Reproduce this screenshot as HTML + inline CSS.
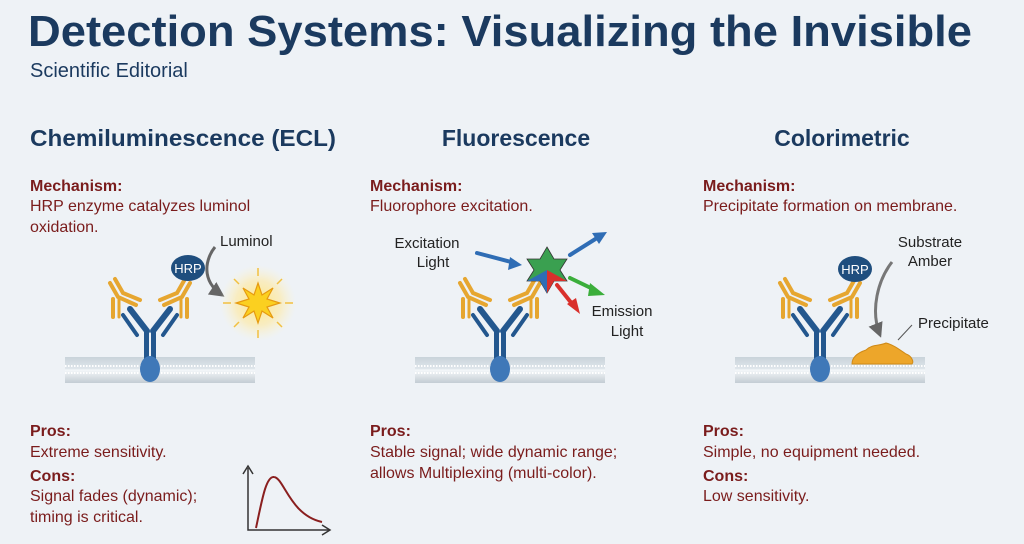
<!DOCTYPE html>
<html><head><meta charset="utf-8"><style>
body{margin:0;background:#eef2f6;}
svg{display:block;font-family:"Liberation Sans",Arial,sans-serif;}
</style></head><body>
<svg width="1024" height="544" viewBox="0 0 1024 544" xmlns="http://www.w3.org/2000/svg">
<defs>
<linearGradient id="mem" x1="0" y1="0" x2="0" y2="1">
<stop offset="0" stop-color="#c9d3da"/><stop offset="0.45" stop-color="#dfe6eb"/><stop offset="0.5" stop-color="#f4f7f9"/><stop offset="1" stop-color="#c3ccd3"/></linearGradient>
<radialGradient id="glow"><stop offset="0" stop-color="#ffe680" stop-opacity="1"/><stop offset="0.6" stop-color="#ffe9a0" stop-opacity="0.6"/><stop offset="1" stop-color="#fff3c8" stop-opacity="0"/></radialGradient>
<g id="ab">
<rect x="-85" y="0" width="190" height="26" fill="url(#mem)"/>
<line x1="-85" y1="9" x2="105" y2="9" stroke="#fff" stroke-width="2" stroke-dasharray="1.5 1.5"/>
<line x1="-85" y1="16" x2="105" y2="16" stroke="#fff" stroke-width="2" stroke-dasharray="1.5 1.5"/>
<rect x="-6" y="-28" width="5" height="36" fill="#23578e"/>
<rect x="1" y="-28" width="5" height="36" fill="#23578e"/>
<path d="M-3 -26 L-20 -48" stroke="#23578e" stroke-width="6" stroke-linecap="round"/>
<path d="M-13 -22 L-27 -42" stroke="#23578e" stroke-width="4" stroke-linecap="round"/>
<path d="M3 -26 L20 -48" stroke="#23578e" stroke-width="6" stroke-linecap="round"/>
<path d="M13 -22 L27 -42" stroke="#23578e" stroke-width="4" stroke-linecap="round"/>
<ellipse cx="0" cy="12" rx="10" ry="13" fill="#3f78b8"/>
<path d="M-35 -78 L-27 -64 L-10 -57" stroke="#e6a630" stroke-width="4" fill="none" stroke-linecap="round"/>
<path d="M-40 -74 L-32 -60 L-14 -52" stroke="#e6a630" stroke-width="4" fill="none" stroke-linecap="round"/>
<path d="M-37 -58 L-37 -40" stroke="#e6a630" stroke-width="4" stroke-linecap="round"/>
<path d="M-31 -58 L-31 -40" stroke="#e6a630" stroke-width="3" stroke-linecap="round"/>
<path d="M35 -78 L27 -64 L10 -57" stroke="#e6a630" stroke-width="4" fill="none" stroke-linecap="round"/>
<path d="M40 -74 L32 -60 L14 -52" stroke="#e6a630" stroke-width="4" fill="none" stroke-linecap="round"/>
<path d="M37 -58 L37 -40" stroke="#e6a630" stroke-width="4" stroke-linecap="round"/>
<path d="M31 -58 L31 -40" stroke="#e6a630" stroke-width="3" stroke-linecap="round"/>
</g>
<marker id="ag" viewBox="0 0 10 10" refX="8" refY="5" markerWidth="5" markerHeight="5" orient="auto"><path d="M0 0 L10 5 L0 10z" fill="#666"/></marker>
</defs>

<text x="28" y="46" font-size="44" font-weight="bold" fill="#1b3a5f" textLength="944" lengthAdjust="spacingAndGlyphs">Detection Systems: Visualizing the Invisible</text>
<text x="30" y="77" font-size="20" fill="#1b3a5f">Scientific Editorial</text>

<g font-size="23" font-weight="bold" fill="#1b3a5f" text-anchor="middle">
<text x="183" y="146" textLength="306" lengthAdjust="spacingAndGlyphs">Chemiluminescence (ECL)</text>
<text x="516" y="146">Fluorescence</text>
<text x="842" y="146">Colorimetric</text>
</g>

<g font-size="16">
<text x="30" y="191" font-weight="bold" fill="#7a1c1c">Mechanism:</text>
<text x="30" y="211" fill="#7a1c1c">HRP enzyme catalyzes luminol</text>
<text x="30" y="232" fill="#7a1c1c">oxidation.</text>
<text x="370" y="191" font-weight="bold" fill="#7a1c1c">Mechanism:</text>
<text x="370" y="211" fill="#7a1c1c">Fluorophore excitation.</text>
<text x="703" y="191" font-weight="bold" fill="#7a1c1c">Mechanism:</text>
<text x="703" y="211" fill="#7a1c1c">Precipitate formation on membrane.</text>

<text x="30" y="436" font-weight="bold" fill="#7a1c1c">Pros:</text>
<text x="30" y="457" fill="#7a1c1c">Extreme sensitivity.</text>
<text x="30" y="481" font-weight="bold" fill="#7a1c1c">Cons:</text>
<text x="30" y="501" fill="#7a1c1c">Signal fades (dynamic);</text>
<text x="30" y="522" fill="#7a1c1c">timing is critical.</text>
<text x="370" y="436" font-weight="bold" fill="#7a1c1c">Pros:</text>
<text x="370" y="457" fill="#7a1c1c">Stable signal; wide dynamic range;</text>
<text x="370" y="478" fill="#7a1c1c">allows Multiplexing (multi-color).</text>
<text x="703" y="436" font-weight="bold" fill="#7a1c1c">Pros:</text>
<text x="703" y="457" fill="#7a1c1c">Simple, no equipment needed.</text>
<text x="703" y="481" font-weight="bold" fill="#7a1c1c">Cons:</text>
<text x="703" y="501" fill="#7a1c1c">Low sensitivity.</text>
</g>

<path d="M248 468 L248 530 L330 530" stroke="#333" stroke-width="1.5" fill="none"/>
<path d="M243 474 L248 466 L253 474 M322 525 L330 530 L322 535" stroke="#333" stroke-width="1.5" fill="none"/>
<path d="M256 528 C262 500 266 476 274 477 C284 478 290 515 322 522" stroke="#8a1f1f" stroke-width="2" fill="none"/>

<use href="#ab" x="150" y="357"/>
<use href="#ab" x="500" y="357"/>
<use href="#ab" x="820" y="357"/>

<ellipse cx="188" cy="268" rx="17" ry="13" fill="#1f4e7e"/>
<text x="188" y="273" font-size="13" fill="#fff" text-anchor="middle">HRP</text>
<text x="220" y="246" font-size="15" fill="#222">Luminol</text>
<path d="M215 247 C206 258 200 280 222 295" stroke="#666" stroke-width="3" fill="none" marker-end="url(#ag)"/>
<circle cx="258" cy="303" r="38" fill="url(#glow)"/>
<g stroke="#f2c040" stroke-width="1.5">
<line x1="258" y1="268" x2="258" y2="276"/><line x1="258" y1="330" x2="258" y2="338"/>
<line x1="223" y1="303" x2="231" y2="303"/><line x1="285" y1="303" x2="293" y2="303"/>
<line x1="234" y1="279" x2="239" y2="284"/><line x1="277" y1="322" x2="282" y2="327"/>
<line x1="282" y1="279" x2="277" y2="284"/><line x1="239" y1="322" x2="234" y2="327"/>
</g>
<polygon points="258,283 262,295 273,288 267,299 280,303 267,307 273,318 262,311 258,323 254,311 243,318 249,307 236,303 249,299 243,288 254,295" fill="#fbd020" stroke="#e69a10" stroke-width="1.2"/>

<text x="427" y="248" font-size="15" fill="#222" text-anchor="middle">Excitation</text>
<text x="433" y="267" font-size="15" fill="#222" text-anchor="middle">Light</text>
<text x="622" y="316" font-size="15" fill="#222" text-anchor="middle">Emission</text>
<text x="627" y="336" font-size="15" fill="#222" text-anchor="middle">Light</text>
<g stroke-width="4" stroke-linecap="round">
<line x1="477" y1="253" x2="515" y2="263" stroke="#2f6db5"/>
<polygon points="522,265 510,257 508,270" fill="#2f6db5"/>
<line x1="570" y1="255" x2="597" y2="238" stroke="#2f6db5"/>
<polygon points="607,232 592,233 599,244" fill="#2f6db5"/>
<line x1="570" y1="278" x2="595" y2="290" stroke="#3bae3b"/>
<polygon points="605,295 590,283 588,296" fill="#3bae3b"/>
<line x1="557" y1="285" x2="573" y2="305" stroke="#d9302c"/>
<polygon points="580,314 567,304 576,298" fill="#d9302c"/>
</g>
<polygon points="547,247 554,259 567,259 560,270 567,281 554,281 547,293 540,281 527,281 534,270 527,259 540,259" fill="#3aa050" stroke="#333" stroke-width="0.8"/>
<polygon points="547,270 567,281 554,281 547,293" fill="#d9302c"/>
<polygon points="547,270 547,293 540,281 527,281" fill="#2f6db5"/>

<ellipse cx="855" cy="269" rx="17" ry="13" fill="#1f4e7e"/>
<text x="855" y="274" font-size="13" fill="#fff" text-anchor="middle">HRP</text>
<text x="930" y="247" font-size="15" fill="#222" text-anchor="middle">Substrate</text>
<text x="930" y="266" font-size="15" fill="#222" text-anchor="middle">Amber</text>
<path d="M892 262 C878 280 870 310 880 335" stroke="#777" stroke-width="3" fill="none" marker-end="url(#ag)"/>
<text x="918" y="328" font-size="15" fill="#222">Precipitate</text>
<line x1="912" y1="325" x2="898" y2="340" stroke="#555" stroke-width="1"/>
<path d="M852 364 C852 356 860 352 866 350 C872 344 880 346 886 343 C894 345 900 350 906 354 C912 356 914 362 912 364 Z" fill="#eda62a" stroke="#cf8a18" stroke-width="1"/>
</svg>
</body></html>
